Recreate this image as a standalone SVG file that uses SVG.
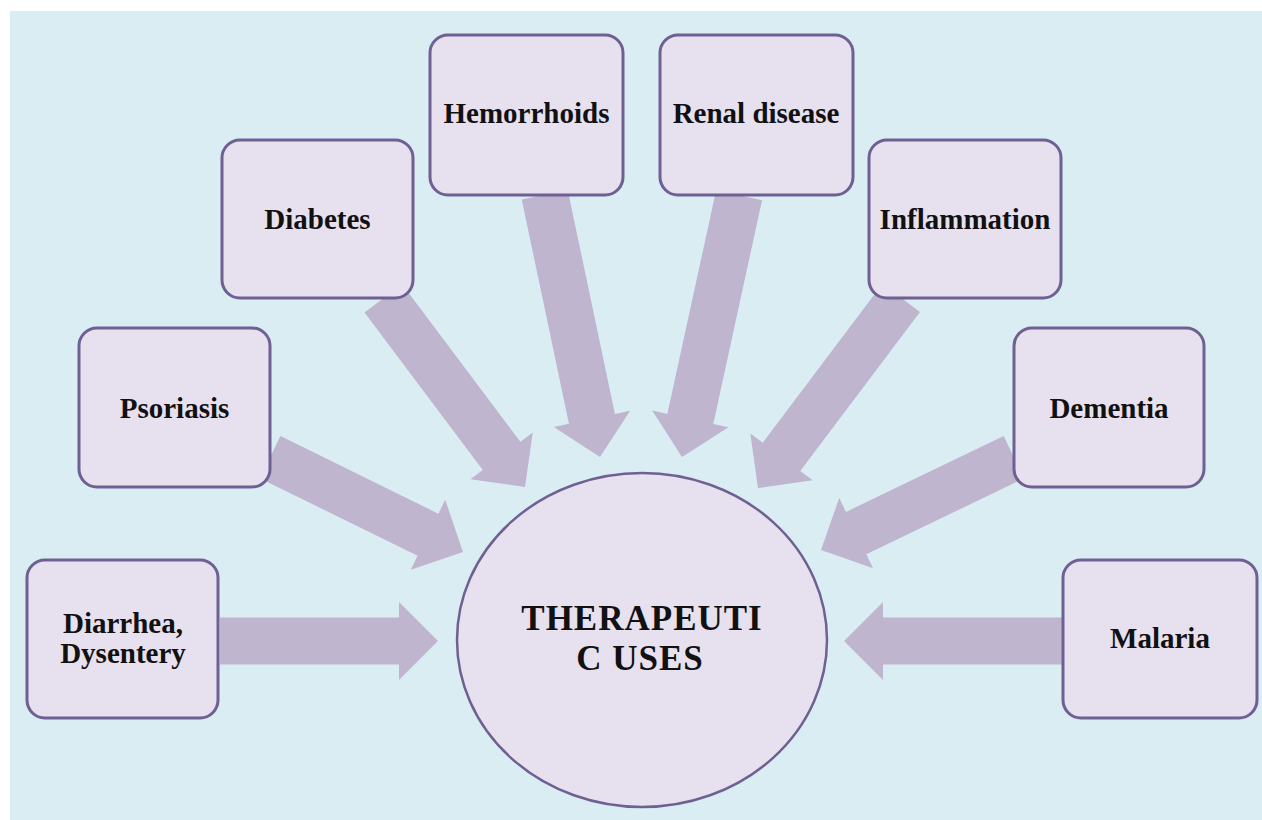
<svg xmlns="http://www.w3.org/2000/svg" width="1262" height="820" viewBox="0 0 1262 820">
<style>
.arr{fill:#bfb5cf;}
.box{fill:#e7e0ef;stroke:#6f6093;stroke-width:3;}
.lbl{font-family:"Liberation Serif","Times New Roman",serif;font-weight:bold;font-size:29px;fill:#111;text-anchor:middle;}
.ctr{font-family:"Liberation Serif","Times New Roman",serif;font-weight:bold;font-size:35px;fill:#111;text-anchor:middle;letter-spacing:1px;}
</style>
<rect x="0" y="0" width="1262" height="820" fill="#ffffff"/>
<rect x="10" y="11" width="1252" height="809" fill="#daedf3"/>
<g id="connectors">
<polygon class="arr" transform="translate(438,641) rotate(0)" points="-218,-23.5 -39,-23.5 -39,-39 0,0 -39,39 -39,23.5 -218,23.5"/>
<polygon class="arr" transform="translate(844,641) rotate(180)" points="-219,-23.5 -39,-23.5 -39,-39 0,0 -39,39 -39,23.5 -219,23.5"/>
<polygon class="arr" transform="translate(463,552) rotate(26.2)" points="-215,-23.5 -39,-23.5 -39,-39 0,0 -39,39 -39,23.5 -215,23.5"/>
<polygon class="arr" transform="translate(821,550) rotate(154.3)" points="-214,-23.5 -39,-23.5 -39,-39 0,0 -39,39 -39,23.5 -214,23.5"/>
<polygon class="arr" transform="translate(525,487) rotate(53.1)" points="-236,-23.5 -39,-23.5 -39,-39 0,0 -39,39 -39,23.5 -236,23.5"/>
<polygon class="arr" transform="translate(758,488) rotate(127)" points="-238,-23.5 -39,-23.5 -39,-39 0,0 -39,39 -39,23.5 -238,23.5"/>
<polygon class="arr" transform="translate(600,457) rotate(78.1)" points="-268,-23.5 -39,-23.5 -39,-39 0,0 -39,39 -39,23.5 -268,23.5"/>
<polygon class="arr" transform="translate(682,457) rotate(102.3)" points="-268,-23.5 -39,-23.5 -39,-39 0,0 -39,39 -39,23.5 -268,23.5"/>
</g>
<g id="diarrhea">
<rect class="box" x="27" y="560" width="191" height="158" rx="18"/>
<text class="lbl" x="123" y="633">Diarrhea,</text>
<text class="lbl" x="123" y="663">Dysentery</text>
</g>
<g id="psoriasis">
<rect class="box" x="79" y="328" width="191" height="159" rx="18"/>
<text class="lbl" x="174.5" y="418">Psoriasis</text>
</g>
<g id="diabetes">
<rect class="box" x="222" y="140" width="191" height="158" rx="18"/>
<text class="lbl" x="317.5" y="229">Diabetes</text>
</g>
<g id="hemorrhoids">
<rect class="box" x="430" y="35" width="193" height="160" rx="18"/>
<text class="lbl" x="526.5" y="123">Hemorrhoids</text>
</g>
<g id="renal">
<rect class="box" x="660" y="35" width="193" height="160" rx="18"/>
<text class="lbl" x="756" y="123">Renal disease</text>
</g>
<g id="inflammation">
<rect class="box" x="869" y="140" width="192" height="158" rx="18"/>
<text class="lbl" x="965" y="229">Inflammation</text>
</g>
<g id="dementia">
<rect class="box" x="1014" y="328" width="190" height="159" rx="18"/>
<text class="lbl" x="1109" y="418">Dementia</text>
</g>
<g id="malaria">
<rect class="box" x="1063" y="560" width="194" height="158" rx="18"/>
<text class="lbl" x="1160" y="648">Malaria</text>
</g>
<g id="center">
<ellipse cx="642" cy="640" rx="185" ry="167" fill="#e7e0ef" stroke="#6f6093" stroke-width="2.5"/>
<text class="ctr" x="642" y="630">THERAPEUTI</text>
<text class="ctr" x="640" y="670">C USES</text>
</g>
</svg>
